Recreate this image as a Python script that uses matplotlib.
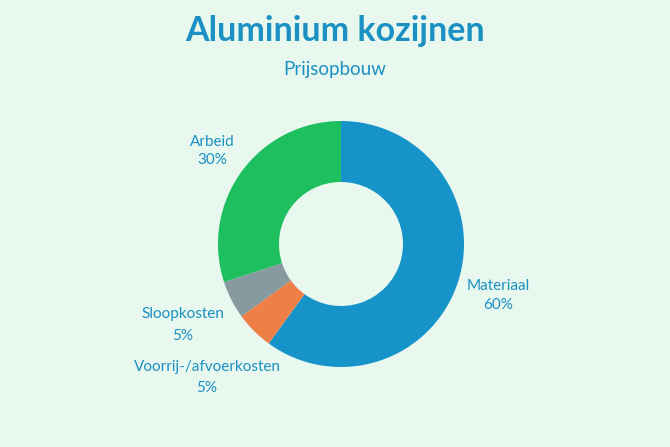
import matplotlib.pyplot as plt

# prijsopbouw aluminium kozijnen
categories = ["Materiaal", "Voorrij-/afvoerkosten", "Sloopkosten", "Arbeid"]
shares = [60, 5, 5, 30]
colors = ["#1693c8", "#ee7f47", "#869aa0", "#1ebf5f"]

bg = "#e8f8ef"
text_color = "#1b90c2"

W, H = 670, 447
fig = plt.figure(figsize=(W / 100, H / 100), dpi=100, facecolor=bg)
ax = fig.add_axes([0, 0, 1, 1])

cx, cy, r = 341, H - 244, 123
ax.pie(shares, colors=colors, startangle=90, counterclock=False,
       center=(cx, cy), radius=r, frame=True,
       wedgeprops=dict(width=61, edgecolor="none"))
ax.set_xlim(0, W)
ax.set_ylim(0, H)
ax.axis("off")

font = "Lato"
fig.text(0.5, 1 - 31 / H, "Aluminium kozijnen", ha="center", va="center",
         fontsize=24.5, fontweight="bold", color=text_color, family=font)
fig.text(0.5, 1 - 69 / H, "Prijsopbouw", ha="center", va="center",
         fontsize=13.5, color=text_color, family=font)

# label positions (pixels from top-left): x, name line y, value line y
label_pos = {
    "Materiaal": (498, 286, 305),
    "Voorrij-/afvoerkosten": (207, 367, 388),
    "Sloopkosten": (183, 314, 336),
    "Arbeid": (212, 142, 160),
}
for name, val in zip(categories, shares):
    x, y1, y2 = label_pos[name]
    ax.text(x, H - y1, name, ha="center", va="center",
            fontsize=11, color=text_color, family=font)
    ax.text(x, H - y2, f"{val}%", ha="center", va="center",
            fontsize=11, color=text_color, family=font)

fig.savefig("out.png", dpi=100, facecolor=bg)
